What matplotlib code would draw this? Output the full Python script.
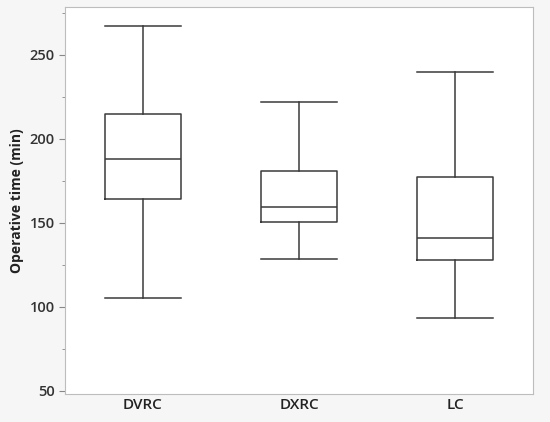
import numpy as np
import matplotlib
matplotlib.use("Agg")
from matplotlib import pyplot as plt

plt.rcParams['font.family'] = ['Open Sans', 'DejaVu Sans']

# Werte
gruppen = ["DVRC", "DXRC", "LC"]
whisker_oben = [267, 222, 240]
q3 = [214.5, 181, 177]
median = [188, 159.3, 141.2]
q1 = [164.3, 150.6, 128]
whisker_unten = [105.5, 128.4, 93.3]

stats = []
for i, name in enumerate(gruppen):
    stats.append(dict(label=name, whislo=whisker_unten[i], q1=q1[i],
                      med=median[i], q3=q3[i], whishi=whisker_oben[i],
                      fliers=[]))

fig = plt.figure(figsize=(5.5, 4.22), dpi=100, facecolor="#f6f6f6")
ax = fig.add_axes([65/550, 1 - 394/422, 468/550, 387/422])
ax.set_facecolor("white")

linie = dict(color="#3a3a3a", linewidth=1.1)
ax.bxp(stats, positions=np.arange(len(gruppen)), widths=0.49,
       capwidths=0.49,
       boxprops=linie, medianprops=linie, whiskerprops=linie,
       capprops=linie, showfliers=False)

ax.set_xlim(-0.5, 2.5)
ax.set_ylim(48.2, 278.4)
ax.set_yticks([50, 100, 150, 200, 250])
ax.set_yticks([75, 125, 175, 225, 275], minor=True)
ax.set_ylabel("Operative time (min)", fontsize=10, fontweight="bold",
              color="#222222")

for s in ax.spines.values():
    s.set_color("#bdbdbd")
ax.tick_params(axis="y", labelsize=10.5, colors="#333333", length=4,
               color="#888888")
ax.tick_params(axis="y", which="minor", length=2, color="#888888")
ax.tick_params(axis="x", length=0, labelsize=11, labelcolor="#222222",
               pad=3)
for t in ax.get_xticklabels() + ax.get_yticklabels():
    t.set_fontweight("semibold")

fig.savefig("out.png", dpi=100, facecolor=fig.get_facecolor())
